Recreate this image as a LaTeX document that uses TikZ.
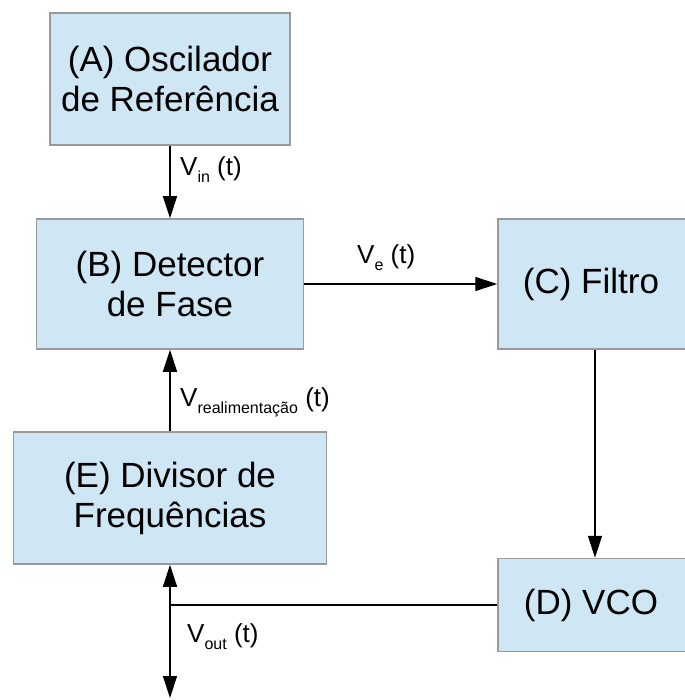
\documentclass[tikz,border=0pt]{standalone}
\usepackage{fontspec}
\setmainfont{Liberation Sans}
\usetikzlibrary{arrows.meta}
\definecolor{boxblue}{HTML}{CFE6F4}
\definecolor{boxgray}{HTML}{9A9A9A}
\def\lsub#1{\raisebox{-7pt}{\fontsize{16}{16}\selectfont #1}}
\tikzset{
  blk/.style={draw=boxgray, fill=boxblue, line width=1.5pt, align=center,
    inner sep=0pt, font=\fontsize{35}{40}\selectfont},
  lbl/.style={anchor=west, inner sep=0pt, font=\fontsize{26}{30}\selectfont},
  sig/.style={line width=1.4pt, -{Triangle[length=22pt,width=14pt]}}
}

\begin{document}
\begin{tikzpicture}[x=1pt,y=-1pt]
  \useasboundingbox (0,0) rectangle (684,700);
  % blocos
  \node[blk, minimum width=240, minimum height=132] (A) at (170,79)  {(A) Oscilador\\de Referência};
  \node[blk, minimum width=267, minimum height=130] (B) at (170,284) {(B) Detector\\de Fase};
  \node[blk, minimum width=194, minimum height=130] (C) at (595,284) {\hspace*{-8pt}(C) Filtro};
  \node[blk, minimum width=194, minimum height=93]  (D) at (595,605) {\hspace*{-8pt}(D) VCO};
  \node[blk, minimum width=313, minimum height=132] (E) at (170,498) {(E) Divisor de\\Frequências};
  \coordinate (J) at (E.south |- D.west);
  \coordinate (out) at (170,698);
  % ligacoes
  \draw[sig] (A) -- (B);
  \draw[sig] (B) -- (C);
  \draw[sig] (C) -- (D);
  \draw[sig] (E) -- (B);
  \draw[line width=1.4pt] (D.west) -- (J);
  \draw[sig] (J) -- (E.south);
  \draw[sig] (J) -- (out);
  % sinais
  \node[lbl] (vin) at (180,170) {V\lsub{in} (t)};
  \node[lbl] (ve) at (357,258) {V\lsub{e} (t)};
  \node[lbl] (vr) at (180,402) {V\lsub{realimentação} (t)};
  \node[lbl] (vout) at (187,637) {V\lsub{out} (t)};
\end{tikzpicture}
\end{document}
